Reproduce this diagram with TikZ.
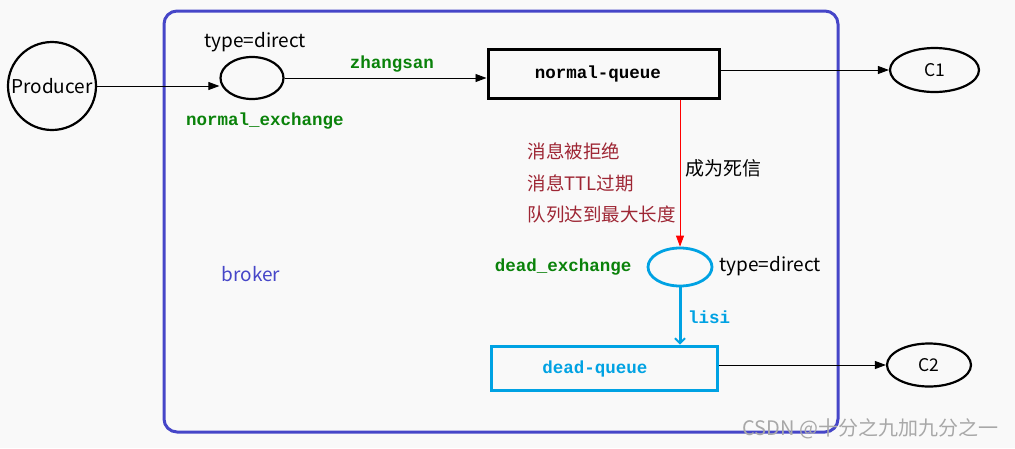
\documentclass[tikz,border=0pt]{standalone}
\usepackage{fontspec}
\setmainfont{Noto Sans CJK SC}
\newfontfamily\cjk{Noto Sans CJK SC}
\newfontfamily\monob{Liberation Mono}[BoldFont={Liberation Mono Bold}]
\usetikzlibrary{arrows.meta,shapes.geometric}
\definecolor{bg}{HTML}{F9F9F9}
\definecolor{brokerblue}{HTML}{4646C8}
\definecolor{cyanq}{HTML}{00A2E3}
\definecolor{greenk}{HTML}{0A820A}
\definecolor{redt}{HTML}{9E2634}
\definecolor{wm}{HTML}{A8A8A8}
\tikzset{
  px/.style={x=1pt,y=-1pt},
  ell/.style={ellipse,draw=black,line width=2.2pt,inner sep=0pt},
  qbox/.style={rectangle,draw=black,line width=3pt,inner sep=0pt},
  mono/.style={font=\monob\bfseries\fontsize{17.5}{20}\selectfont},
  sans/.style={font=\cjk\fontsize{19}{22}\selectfont},
  csans/.style={font=\cjk\fontsize{17.5}{20}\selectfont},
  redtxt/.style={font=\cjk\fontsize{18.5}{22}\selectfont,text=redt,anchor=west},
  conn/.style={line width=0.9pt,-{Triangle[length=11pt,width=8pt]}},
}
\begin{document}
\begin{tikzpicture}[px]
\fill[bg] (0,0) rectangle (1015,448);
\useasboundingbox (0,0) rectangle (1015,448);
% broker
\draw[brokerblue,line width=3pt,rounded corners=13pt] (164,11) rectangle (838,432);
\node[sans,text=brokerblue] (broker) at (251,274) {broker};
% nodes
\node[circle,draw=black,line width=2.2pt,minimum size=88pt,inner sep=0pt] (prod) at (52,86) {};
\node[sans] at (52,86) {Producer};
\node[ell,minimum width=63pt,minimum height=42pt] (ex1) at (252,78) {};
\node[sans] (t1) at (255,42) {type=direct};
\node[mono,text=greenk] (ne) at (265,121) {normal\_exchange};
\node[qbox,minimum width=231pt,minimum height=49pt] (nq) at (603.5,73.5) {};
\node[mono] at (598,74) {normal-queue};
\node[ell,minimum width=89pt,minimum height=44pt] (c1) at (934.5,70) {};
\node[csans] at (934.5,70) {C1};
\node[ell,draw=cyanq,line width=2.8pt,minimum width=64pt,minimum height=38pt] (ex2) at (680,267) {};
\node[mono,text=greenk,anchor=east] (de) at (635,267) {dead\_exchange};
\node[sans,anchor=west] (t2) at (716,266) {type=direct};
\node[qbox,draw=cyanq,minimum width=226pt,minimum height=44pt] (dq) at (604,368) {};
\node[mono,text=cyanq] at (595,369) {dead-queue};
\node[ell,minimum width=84pt,minimum height=43pt] (c2) at (929,365) {};
\node[csans] at (929,365) {C2};
% labels
\node[mono,text=greenk] (zs) at (392,64) {zhangsan};
\node[mono,text=cyanq] (ls) at (709,317) {lisi};
\node[sans,anchor=west] (dead) at (682,168) {成为死信};
\node[redtxt] (r1) at (524,151) {消息被拒绝};
\node[redtxt] (r2) at (524,183) {消息TTL过期};
\node[redtxt] (r3) at (524,214) {队列达到最大长度};
% connectors
\coordinate (pa) at (prod.east |- 0,86);
\draw[conn] (pa) -- (ex1.west |- pa);
\draw[conn] (ex1.east) -- (nq.west |- ex1.east);
\draw[conn] (nq.east |- c1.west) -- (c1.west);
\draw[line width=0.8pt,red,-{Triangle[length=11pt,width=8pt]}] (nq.south -| ex2.north) -- (ex2.north);
\draw[draw=cyanq,line width=3pt,-{Straight Barb[length=5pt,width=10pt,line width=1.8pt]}] (ex2.south) -- (dq.north -| ex2.south);
\draw[conn] (dq.east |- c2.west) -- (c2.west);
% watermark
\node[text=wm,anchor=east,font=\cjk\fontsize{20}{22}\selectfont] (wmk) at (1002,429) {CSDN @十分之九加九分之一};
\end{tikzpicture}
\end{document}
